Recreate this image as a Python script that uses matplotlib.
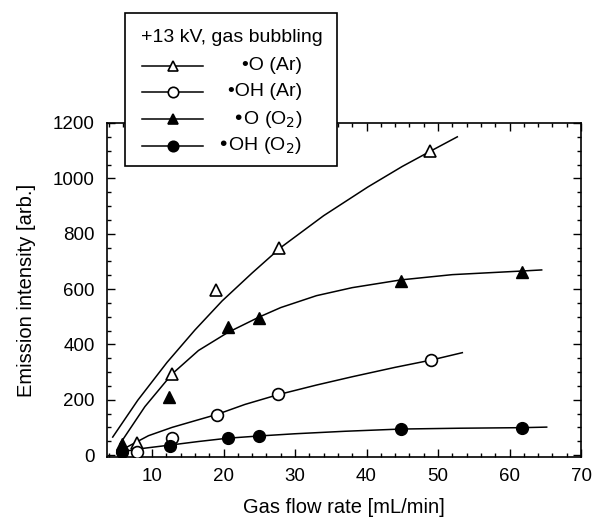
import numpy as np
import matplotlib.pyplot as plt
from matplotlib.lines import Line2D
from matplotlib.patches import Rectangle
from matplotlib.ticker import MultipleLocator

plt.rcParams['font.family'] = ['Liberation Sans', 'DejaVu Sans']

# measured points
o_ar_x = [7.9, 12.8, 19.0, 27.8, 48.9]
o_ar_y = [43, 293, 597, 748, 1099]
oh_ar_x = [7.9, 12.8, 19.1, 27.6, 49.0]
oh_ar_y = [11, 61, 145, 220, 343]
o_o2_x = [5.8, 12.4, 20.6, 25.0, 44.8, 61.7]
o_o2_y = [40, 210, 463, 495, 629, 662]
oh_o2_x = [5.8, 12.5, 20.6, 25.0, 44.8, 61.7]
oh_o2_y = [11, 33, 61, 69, 94, 98]

# fitted curves
fit_o_ar_x = [4.5, 8, 12.1, 16, 19.8, 24, 28, 34, 40.2, 45, 49, 52.7]
fit_o_ar_y = [65, 198, 335, 452, 557, 658, 750, 865, 969, 1043, 1099, 1150]
fit_o_o2_x = [5.5, 9, 12.8, 16.5, 20.6, 25, 28, 33, 38, 44.8, 52, 61.7, 64.5]
fit_o_o2_y = [40, 175, 293, 378, 443, 499, 533, 576, 605, 633, 652, 665, 669]
fit_oh_ar_x = [6.5, 9.5, 12.8, 16, 19.1, 23, 27.6, 33, 38, 44, 49, 53.4]
fit_oh_ar_y = [29, 70, 100, 124, 147, 183, 218, 253, 283, 317, 343, 370]
fit_oh_o2_x = [5.5, 9, 12.5, 16.5, 20.6, 25, 30, 37, 44.8, 53, 61.7, 65.2]
fit_oh_o2_y = [11, 25, 36, 49, 61, 69, 77, 86, 94, 97, 99, 101]

legend_title = '+13 kV, gas bubbling'
labels = ['•O (Ar)', '•OH (Ar)', '•O (O$_2$)', '•OH (O$_2$)']

W, H = 596, 522
fig = plt.figure(figsize=(W / 100, H / 100), dpi=100)
ax = fig.add_axes([107 / W, 1 - 457 / H, (581 - 107) / W, (457 - 123) / H])

lw = 1.1
ms = 8.5
for fx_, fy_ in [(fit_o_ar_x, fit_o_ar_y), (fit_o_o2_x, fit_o_o2_y),
                 (fit_oh_ar_x, fit_oh_ar_y), (fit_oh_o2_x, fit_oh_o2_y)]:
    ax.plot(fx_, fy_, color='black', lw=lw, zorder=2)

ax.plot(o_ar_x, o_ar_y, '^', mfc='white', mec='black', mew=1.2, ms=ms, ls='none', zorder=3)
ax.plot(oh_ar_x, oh_ar_y, 'o', mfc='white', mec='black', mew=1.2, ms=ms, ls='none', zorder=3)
ax.plot(o_o2_x, o_o2_y, '^', mfc='black', mec='black', ms=ms, ls='none', zorder=4)
ax.plot(oh_o2_x, oh_o2_y, 'o', mfc='black', mec='black', ms=ms, ls='none', zorder=4)

ax.set_xlim(3.7, 70)
ax.set_ylim(-7, 1200)
ax.xaxis.set_major_locator(MultipleLocator(10))
ax.xaxis.set_minor_locator(MultipleLocator(2))
ax.yaxis.set_major_locator(MultipleLocator(200))
ax.yaxis.set_minor_locator(MultipleLocator(50))
ax.tick_params(which='both', direction='in', top=True, right=True, labelsize=13.5, width=1)
ax.tick_params(which='major', length=6)
ax.tick_params(which='minor', length=3)
ax.tick_params(axis='x', pad=8)
ax.tick_params(axis='y', pad=9)
for s in ax.spines.values():
    s.set_linewidth(1.2)
ax.set_xlabel('Gas flow rate [mL/min]', fontsize=14.5, labelpad=9)
ax.set_ylabel('Emission intensity [arb.]', fontsize=14.5, labelpad=12)


# legend box drawn by hand
def fx(px):
    return px / W


def fy(py):
    return 1 - py / H


fig.add_artist(Rectangle((fx(125), fy(166)), fx(337) - fx(125), fy(13) - fy(166),
                         transform=fig.transFigure, facecolor='white',
                         edgecolor='black', lw=1.2, zorder=10))
fig.text(fx(141), fy(37), legend_title, fontsize=14, va='center', ha='left', zorder=11)
styles = [('^', 'white'), ('o', 'white'), ('^', 'black'), ('o', 'black')]
rows = [66, 92, 119, 146]
for (mk, fc), lab, py in zip(styles, labels, rows):
    fig.add_artist(Line2D([fx(142), fx(203)], [fy(py), fy(py)], color='black', lw=lw,
                          transform=fig.transFigure, zorder=11))
    fig.add_artist(Line2D([fx(173)], [fy(py)], marker=mk, mfc=fc, mec='black', mew=1.2,
                          ms=7.5, ls='none', transform=fig.transFigure, zorder=12))
    fig.text(fx(302), fy(py), lab, fontsize=14, va='center', ha='right', zorder=11)

fig.savefig('out.png', dpi=100)
